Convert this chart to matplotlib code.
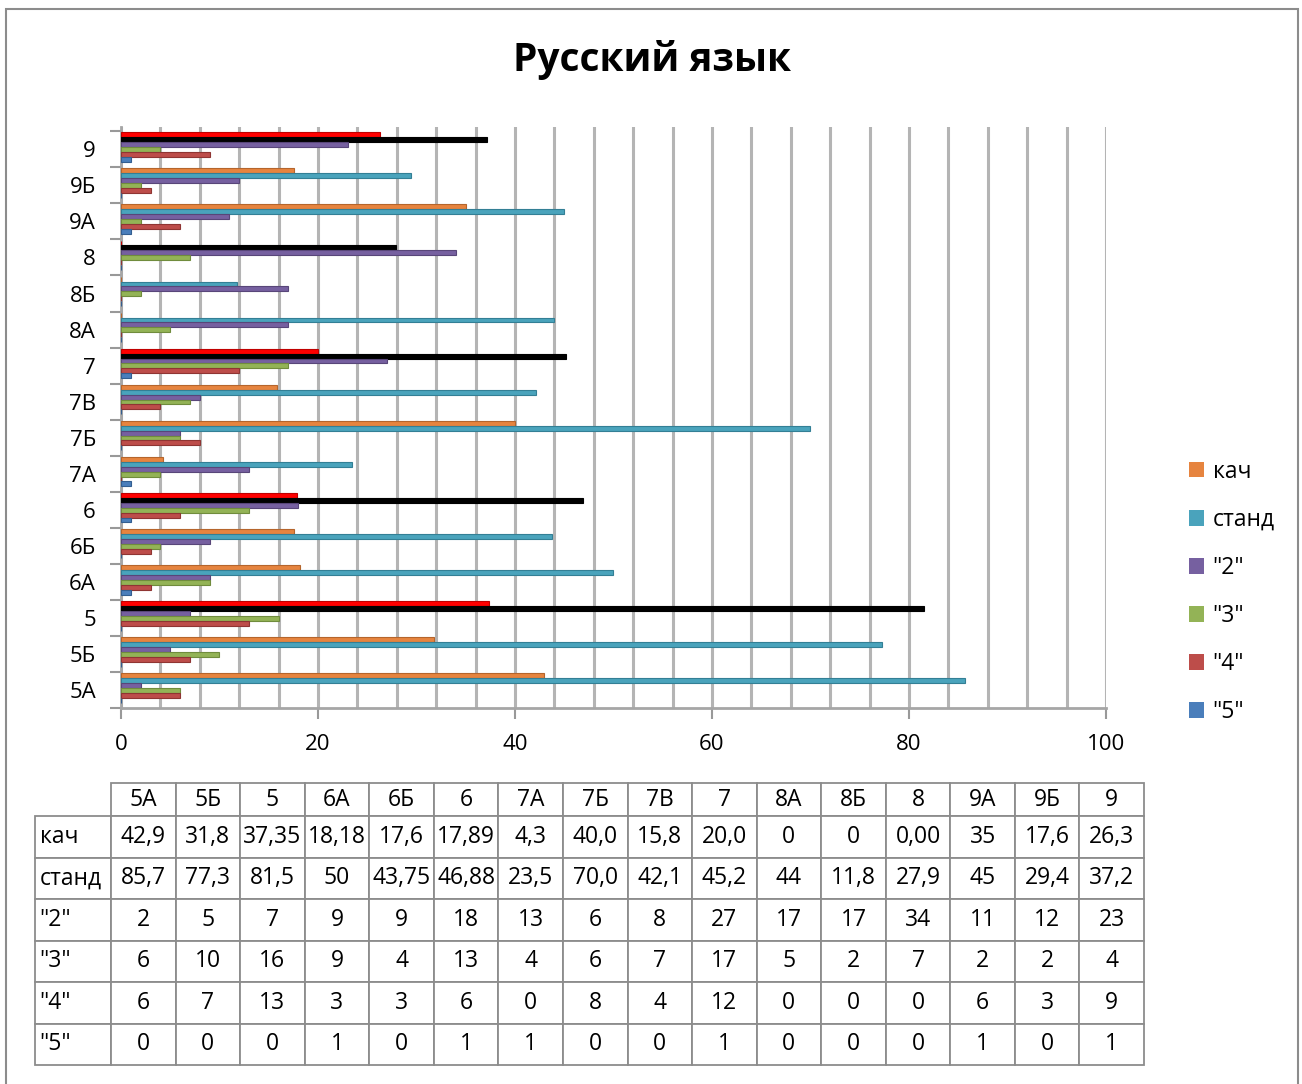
import matplotlib
matplotlib.use("Agg")
import matplotlib.pyplot as plt
from matplotlib.patches import Patch, Rectangle
from matplotlib.ticker import MultipleLocator, FixedLocator
import numpy as np

plt.rcParams['font.family'] = ['Open Sans', 'DejaVu Sans']

# ---------------- data ----------------
categories = ['5А', '5Б', '5', '6А', '6Б', '6', '7А', '7Б', '7В', '7',
              '8А', '8Б', '8', '9А', '9Б', '9']
kach = [42.9, 31.8, 37.35, 18.18, 17.6, 17.89, 4.3, 40.0, 15.8, 20.0,
        0, 0, 0, 35, 17.6, 26.3]
stand = [85.7, 77.3, 81.5, 50, 43.75, 46.88, 23.5, 70.0, 42.1, 45.2,
         44, 11.8, 27.9, 45, 29.4, 37.2]
g2 = [2, 5, 7, 9, 9, 18, 13, 6, 8, 27, 17, 17, 34, 11, 12, 23]
g3 = [6, 10, 16, 9, 4, 13, 4, 6, 7, 17, 5, 2, 7, 2, 2, 4]
g4 = [6, 7, 13, 3, 3, 6, 0, 8, 4, 12, 0, 0, 0, 6, 3, 9]
g5 = [0, 0, 0, 1, 0, 1, 1, 0, 0, 1, 0, 0, 0, 1, 0, 1]

kach_text = ['42,9', '31,8', '37,35', '18,18', '17,6', '17,89', '4,3', '40,0',
             '15,8', '20,0', '0', '0', '0,00', '35', '17,6', '26,3']
stand_text = ['85,7', '77,3', '81,5', '50', '43,75', '46,88', '23,5', '70,0',
              '42,1', '45,2', '44', '11,8', '27,9', '45', '29,4', '37,2']

series_names = ['кач', 'станд', '"2"', '"3"', '"4"', '"5"']
series_vals = [kach, stand, g2, g3, g4, g5]
series_text = [kach_text, stand_text,
               [str(v) for v in g2], [str(v) for v in g3],
               [str(v) for v in g4], [str(v) for v in g5]]
total_rows = ['5', '6', '7', '8', '9']   # aggregated rows with highlighted bars

# ---------------- style ----------------
colors = ['#E6843F', '#4AA3BC', '#7660A0', '#93B356', '#BD4D4A', '#4A7EBB']
edges = ['#B5652C', '#337F95', '#584679', '#708C3D', '#8F3533', '#335E90']
FS = 16
FS_TAB = 16.5

W, H = 1302, 1084
fig = plt.figure(figsize=(W / 100, H / 100), dpi=100)

# outer frame
fig.patches.append(Rectangle((6 / W, -0.02), (1298 - 6) / W, 1.02 - 9 / H,
                             transform=fig.transFigure, fill=False,
                             edgecolor='#8C8C8C', linewidth=1.5))

fig.text(652 / W, 1 - 60 / H, 'Русский язык', ha='center', va='center',
         fontsize=28, fontweight='bold')

ax = fig.add_axes([121 / W, 1 - 708 / H, (1106 - 121) / W, (708 - 127) / H])
ypos = np.arange(len(categories))
bh = 0.137
for k, (name, vals) in enumerate(zip(series_names, series_vals)):
    off = 0.47 - bh / 2 - k * bh
    cols = []
    ecs = []
    for c in categories:
        if c in total_rows and k == 0:
            cols.append('#FF0000'); ecs.append('#C00000')
        elif c in total_rows and k == 1:
            cols.append('#000000'); ecs.append('#000000')
        else:
            cols.append(colors[k]); ecs.append(edges[k])
    ax.barh(ypos + off, vals, height=bh, color=cols, edgecolor=ecs,
            linewidth=0.8, zorder=3, label=name)

ax.set_xlim(0, 100)
ax.set_ylim(-0.5, 15.62)
ax.xaxis.set_major_locator(MultipleLocator(20))
ax.xaxis.set_minor_locator(MultipleLocator(4))
ax.grid(True, axis='x', which='both', color='#B4B4B4', linewidth=2.2, zorder=0)
ax.set_axisbelow(True)
ax.set_yticks(ypos)
ax.set_yticklabels(categories)
ax.yaxis.set_minor_locator(FixedLocator(np.arange(-0.5, 15.6, 1.0)))
ax.tick_params(axis='y', which='major', length=0, pad=18, labelsize=FS)
ax.tick_params(axis='y', which='minor', length=8, width=1.5, color='#999999')
ax.tick_params(axis='x', which='major', length=8, width=1.5, color='#999999',
               pad=11, labelsize=FS)
ax.tick_params(axis='x', which='minor', length=0)
for s in ['top', 'right']:
    ax.spines[s].set_visible(False)
for s in ['left', 'bottom']:
    ax.spines[s].set_color('#A6A6A6')
    ax.spines[s].set_linewidth(2)

# legend
handles = [Patch(facecolor=colors[k], edgecolor='none', label=series_names[k])
           for k in range(6)]
fig.legend(handles=handles, loc='center left',
           bbox_to_anchor=(1168 / W, 1 - 592 / H), frameon=False,
           fontsize=FS_TAB, handlelength=0.65, handleheight=0.65,
           handletextpad=0.4, labelspacing=1.05)

# data table: first column holds the row names, corner cell hidden
tax = fig.add_axes([35 / W, 1 - 1065 / H, (1144 - 35) / W, (1065 - 783) / H])
tax.axis('off')
cell_text = [[name] + list(t) for name, t in zip(series_names, series_text)]
w_lab, w_col = 76.0, (1144 - 111) / 16.0
col_widths = [w_lab] + [w_col] * len(categories)
col_widths = [w / sum(col_widths) for w in col_widths]
tbl = tax.table(cellText=cell_text, colLabels=[''] + categories,
                colWidths=col_widths, cellLoc='center', bbox=[0, 0, 1, 1])
tbl.auto_set_font_size(False)
tbl.set_fontsize(FS_TAB)
h_head, h_row = 33.0 / 282, 41.5 / 282
for (r, c), cell in tbl.get_celld().items():
    cell.set_edgecolor('#8C8C8C')
    cell.set_linewidth(1.3)
    cell.set_height(h_head if r == 0 else h_row)
    if c == 0:
        if r == 0:
            cell.set_visible(False)
        else:
            cell._loc = 'left'
            cell.get_text().set_horizontalalignment('left')
            cell.PAD = 0.06

fig.savefig('out.png', dpi=100)
